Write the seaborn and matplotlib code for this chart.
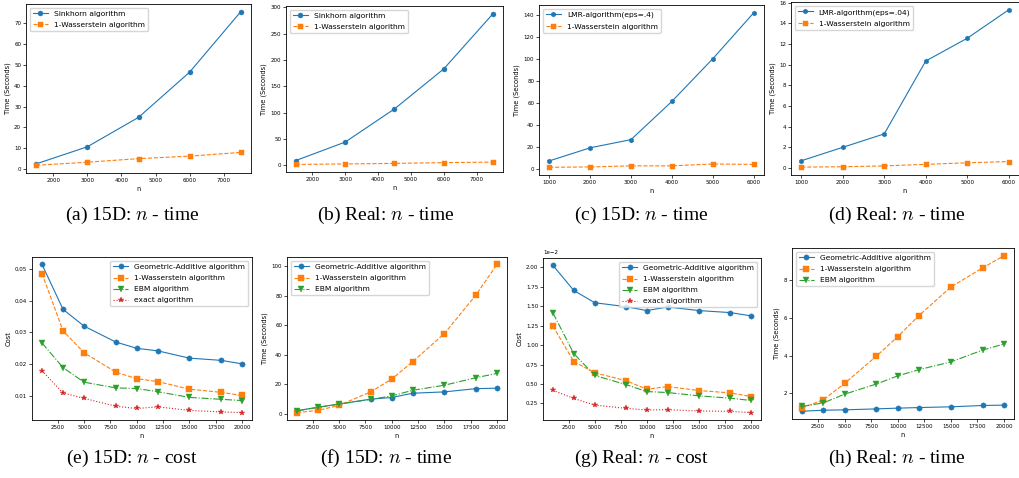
import matplotlib
matplotlib.use("Agg")
import matplotlib.pyplot as plt
import seaborn as sns

# ---------------- data ----------------
n_top_ab = [1500, 3000, 4500, 6000, 7500]
n_top_cd = [1000, 2000, 3000, 4000, 5000, 6000]
n_bottom = [1000, 3000, 5000, 8000, 10000, 12000, 15000, 18000, 20000]

a_sinkhorn = [2.5, 10.7, 24.8, 46.5, 75.5]
a_wass = [1.8, 3.3, 5.0, 6.2, 8.0]

b_sinkhorn = [9, 44, 107, 183, 288]
b_wass = [1.5, 2.5, 3.5, 5.0, 6.0]

c_lmr = [7.0, 19.0, 26.5, 61.5, 100.5, 142.5]
c_wass = [1.2, 1.5, 2.5, 2.5, 4.2, 3.8]

d_lmr = [0.7, 2.0, 3.3, 10.35, 12.55, 15.3]
d_wass = [0.08, 0.12, 0.2, 0.35, 0.5, 0.62]

e_ga = [0.0515, 0.0373, 0.0320, 0.0270, 0.0250, 0.0242, 0.0219, 0.0212, 0.0201]
e_wass = [0.0486, 0.0305, 0.0236, 0.0175, 0.0154, 0.0145, 0.0121, 0.0111, 0.0101]
e_ebm = [0.0267, 0.0189, 0.0143, 0.0125, 0.0123, 0.0113, 0.0095, 0.0089, 0.0085]
e_exact = [0.0179, 0.0109, 0.0092, 0.0067, 0.0060, 0.0065, 0.0054, 0.0049, 0.0047]

f_ga = [2.2, 4.5, 6.7, 10.0, 11.1, 14.0, 14.9, 17.1, 17.4]
f_wass = [0.9, 2.4, 5.8, 14.9, 23.6, 35.4, 54.3, 80.4, 101.1]
f_ebm = [2.0, 4.5, 6.7, 9.8, 12.2, 16.0, 19.4, 24.5, 27.4]

g_ga = [0.02025, 0.01703, 0.01545, 0.01494, 0.01444, 0.0149, 0.01444, 0.01418, 0.01376]
g_wass = [0.01244, 0.00789, 0.00645, 0.00543, 0.00433, 0.00467, 0.00416, 0.00386, 0.00339]
g_ebm = [0.01414, 0.00891, 0.00611, 0.00492, 0.00403, 0.0039, 0.00348, 0.00318, 0.00288]
g_exact = [0.0042, 0.00314, 0.00229, 0.00187, 0.00166, 0.0017, 0.00153, 0.00149, 0.00132]

h_ga = [1.056, 1.11, 1.13, 1.18, 1.22, 1.25, 1.29, 1.36, 1.38]
h_wass = [1.23, 1.66, 2.53, 3.98, 5.01, 6.13, 7.64, 8.66, 9.30]
h_ebm = [1.31, 1.50, 1.96, 2.50, 2.93, 3.26, 3.67, 4.30, 4.62]

captions = ["(a) 15D: $n$ - time", "(b) Real: $n$ - time", "(c) 15D: $n$ - time", "(d) Real: $n$ - time",
            "(e) 15D: $n$ - cost", "(f) 15D: $n$ - time", "(g) Real: $n$ - cost", "(h) Real: $n$ - time"]

# ---------------- style ----------------
plt.rcParams['mathtext.fontset'] = 'cm'
plt.rcParams['font.family'] = ['DejaVu Sans']
plt.rcParams['xtick.labelsize'] = 4.0
plt.rcParams['ytick.labelsize'] = 4.0
plt.rcParams['xtick.major.size'] = 2
plt.rcParams['ytick.major.size'] = 2
plt.rcParams['xtick.major.width'] = 0.5
plt.rcParams['ytick.major.width'] = 0.5
plt.rcParams['xtick.major.pad'] = 1.5
plt.rcParams['ytick.major.pad'] = 1.5
plt.rcParams['axes.linewidth'] = 0.6
plt.rcParams['axes.labelsize'] = 4.8
plt.rcParams['axes.labelpad'] = 2.5

C0, C1, C2, C3 = "#1f77b4", "#ff7f0e", "#2ca02c", "#d62728"
W, H = 1020, 478
fig = plt.figure(figsize=(W / 100, H / 100), dpi=100)


def make_ax(x0, y0, x1, y1):
    return fig.add_axes([x0 / W, 1 - y1 / H, (x1 - x0) / W, (y1 - y0) / H])


def series(ax, x, y, color, marker, ls, label, ms=3.6):
    sns.lineplot(x=x, y=y, ax=ax, color=color, marker=marker, linestyle=ls, label=label,
                 linewidth=0.8, markersize=ms, markeredgewidth=0.3, markeredgecolor=color)


def finish(ax, ylabel, loc):
    ax.set_xlabel("n")
    ax.set_ylabel(ylabel)
    ax.legend(loc=loc, fontsize=5.4, labelspacing=0.65)


# (a)
ax = make_ax(26, 4, 251, 173)
series(ax, n_top_ab, a_sinkhorn, C0, "o", "-", "Sinkhorn algorithm")
series(ax, n_top_ab, a_wass, C1, "s", "--", "1-Wasserstein algorithm")
finish(ax, "Time (Seconds)", "upper left")

# (b)
ax = make_ax(286, 6, 503, 172)
series(ax, n_top_ab, b_sinkhorn, C0, "o", "-", "Sinkhorn algorithm")
series(ax, n_top_ab, b_wass, C1, "s", "--", "1-Wasserstein algorithm")
finish(ax, "Time (Seconds)", "upper left")

# (c)
ax = make_ax(539, 5, 764, 175)
series(ax, n_top_cd, c_lmr, C0, "h", "-", "LMR-algorithm(eps=.4)")
series(ax, n_top_cd, c_wass, C1, "s", "--", "1-Wasserstein algorithm")
finish(ax, "Time (Seconds)", "upper left")

# (d)
ax = make_ax(791, 2, 1019, 175)
series(ax, n_top_cd, d_lmr, C0, "h", "-", "LMR-algorithm(eps=.04)")
series(ax, n_top_cd, d_wass, C1, "s", "--", "1-Wasserstein algorithm")
finish(ax, "Time (Seconds)", "upper left")

# (e)
ax = make_ax(32, 257, 252, 420)
series(ax, n_bottom, e_ga, C0, "o", "-", "Geometric-Additive algorithm", 3.8)
series(ax, n_bottom, e_wass, C1, "s", "--", "1-Wasserstein algorithm", 3.8)
series(ax, n_bottom, e_ebm, C2, "v", "-.", "EBM algorithm", 3.8)
series(ax, n_bottom, e_exact, C3, "*", ":", "exact algorithm", 3.8)
finish(ax, "Cost", "upper right")

# (f)
ax = make_ax(287, 257, 507, 420)
series(ax, n_bottom, f_ga, C0, "o", "-", "Geometric-Additive algorithm", 3.8)
series(ax, n_bottom, f_wass, C1, "s", "--", "1-Wasserstein algorithm", 3.8)
series(ax, n_bottom, f_ebm, C2, "v", "-.", "EBM algorithm", 3.8)
finish(ax, "Time (Seconds)", "upper left")

# (g)
ax = make_ax(543, 258, 761, 420)
series(ax, n_bottom, g_ga, C0, "o", "-", "Geometric-Additive algorithm", 3.8)
series(ax, n_bottom, g_wass, C1, "s", "--", "1-Wasserstein algorithm", 3.8)
series(ax, n_bottom, g_ebm, C2, "v", "-.", "EBM algorithm", 3.8)
series(ax, n_bottom, g_exact, C3, "*", ":", "exact algorithm", 3.8)
ax.ticklabel_format(axis="y", style="sci", scilimits=(0, 0))
ax.yaxis.get_offset_text().set_fontsize(4.0)
finish(ax, "Cost", "upper right")

# (h)
ax = make_ax(792, 248, 1014, 419)
series(ax, n_bottom, h_ga, C0, "o", "-", "Geometric-Additive algorithm", 3.8)
series(ax, n_bottom, h_wass, C1, "s", "--", "1-Wasserstein algorithm", 3.8)
series(ax, n_bottom, h_ebm, C2, "v", "-.", "EBM algorithm", 3.8)
finish(ax, "Time (Seconds)", "upper left")

# captions
cap_x = [132, 386, 641, 897]
for i, cap in enumerate(captions):
    cx = cap_x[i % 4]
    cy = 215 if i < 4 else 458
    fig.text(cx / W, 1 - cy / H, cap, ha="center", va="center",
             fontsize=14, family="Liberation Serif")

fig.savefig("out.png", dpi=100)
